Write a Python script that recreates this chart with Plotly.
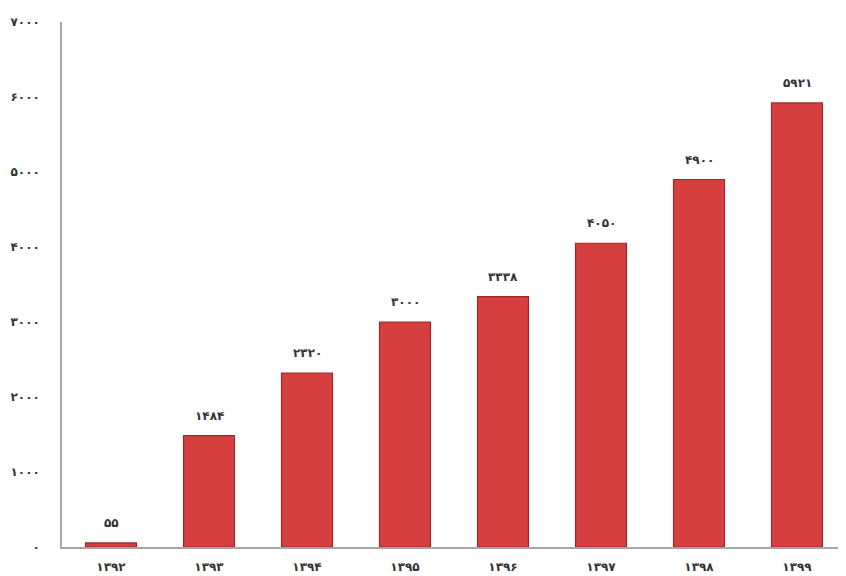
import plotly.graph_objects as go

years = ["۱۳۹۲", "۱۳۹۳", "۱۳۹۴", "۱۳۹۵", "۱۳۹۶", "۱۳۹۷", "۱۳۹۸", "۱۳۹۹"]
values = [55, 1484, 2320, 3000, 3338, 4050, 4900, 5921]
value_labels = ["۵۵", "۱۴۸۴", "۲۳۲۰", "۳۰۰۰", "۳۳۳۸", "۴۰۵۰", "۴۹۰۰", "۵۹۲۱"]
y_ticks = [0, 1000, 2000, 3000, 4000, 5000, 6000, 7000]
y_tick_labels = ["۰", "۱۰۰۰", "۲۰۰۰", "۳۰۰۰", "۴۰۰۰", "۵۰۰۰", "۶۰۰۰", "۷۰۰۰"]

font = dict(family="DejaVu Sans", size=12, color="#333333")

fig = go.Figure()
fig.add_trace(go.Bar(
    x=years, y=values,
    marker=dict(color="#d63f3f", line=dict(color="#9c2a2a", width=1.2)),
    hoverinfo="skip",
))

for x, v, t in zip(years, values, value_labels):
    fig.add_annotation(x=x, y=v, text="<b>" + t + "</b>", showarrow=False,
                       yanchor="bottom", yshift=11, font=font)

fig.update_layout(
    width=838, height=568,
    margin=dict(l=54, r=0, t=14, b=29),
    paper_bgcolor="white", plot_bgcolor="white",
    showlegend=False, bargap=0.48,
    font=font,
)
fig.update_xaxes(
    showline=True, linecolor="#a6a6a6", linewidth=1.5,
    showgrid=False, ticks="", ticklabelstandoff=8,
    tickvals=years, ticktext=["<b>" + y + "</b>" for y in years],
)
fig.update_yaxes(
    range=[0, 7000], showline=True, linecolor="#a6a6a6", linewidth=1.5,
    showgrid=False, zeroline=False, ticks="", ticklabelstandoff=18,
    tickvals=y_ticks, ticktext=["<b>" + t + "</b>" for t in y_tick_labels],
)

fig.write_html("out.html")
